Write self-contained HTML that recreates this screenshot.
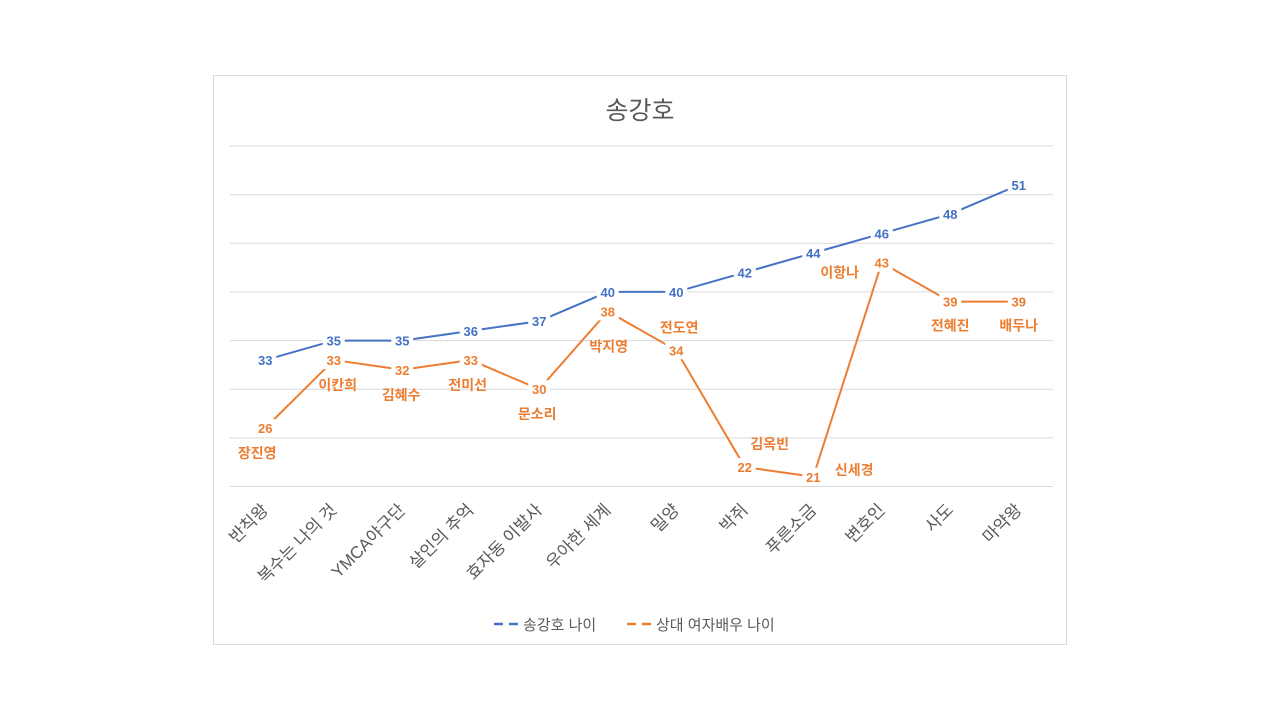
<!DOCTYPE html>
<html><head><meta charset="utf-8">
<style>
body{margin:0;background:#fff;width:1280px;height:720px;overflow:hidden;font-family:"Liberation Sans","Noto Sans CJK KR",sans-serif}
svg text{font-family:"Liberation Sans","Noto Sans CJK KR",sans-serif}
</style></head>
<body>
<svg id="c" width="1280" height="720" xmlns="http://www.w3.org/2000/svg">
<rect x="213.5" y="75.5" width="853" height="569" fill="#fff" stroke="#d9d9d9"/>
<text x="640" y="119" font-size="25" fill="#595959" text-anchor="middle">송강호</text>
<g id="grid"></g><g id="xl"></g><g id="lines"></g><g id="labels"></g>
<g>
<line x1="494" y1="624" x2="519" y2="624" stroke="#4472c4" stroke-width="2.5" stroke-dasharray="9,6"/>
<text x="523" y="630" font-size="15" fill="#595959">송강호 나이</text>
<line x1="627" y1="624" x2="652" y2="624" stroke="#ed7d31" stroke-width="2.5" stroke-dasharray="9,6"/>
<text x="656" y="630" font-size="15" fill="#595959">상대 여자배우 나이</text>
</g>
</svg>
<script>
const categories=["반칙왕","복수는 나의 것","YMCA야구단","살인의 추억","효자동 이발사","우아한 세계","밀양","박쥐","푸른소금","변호인","사도","마약왕"];
const songAges=[33,35,35,36,37,40,40,42,44,46,48,51];
const actressAges=[26,33,32,33,30,38,34,22,21,43,39,39];
const actressNames=["장진영","이칸희","김혜수","전미선","문소리","박지영","전도연","김옥빈","신세경","이항나","전혜진","배두나"];
const yTicks=[20,25,30,35,40,45,50,55];
const nameOff=[[-8,25],[4,25],[-1,25],[-3,25],[-2,25],[1,35],[3,-23],[25,-23],[41,-7],[-42,10],[0,24],[0,24]];
const NS="http://www.w3.org/2000/svg";
const x0=231,x1=1053,yb=486.5,yt=146;
const xs=i=>x0+(i+0.5)*(x1-x0)/categories.length;
const ys=v=>yb-(v-20)*(yb-yt)/35;
function mk(t,a,p){const e=document.createElementNS(NS,t);for(const k in a)e.setAttribute(k,a[k]);p.appendChild(e);return e;}
const G=document.getElementById('grid');
yTicks.forEach(v=>{const l=mk('line',{x1:x0-1,x2:x1,y1:ys(v),y2:ys(v),stroke:'#d9d9d9','stroke-width':1},G);

});
const XL=document.getElementById('xl');
categories.forEach((c,i)=>{const ax=xs(i)+4,ay=511;const t=mk('text',{x:ax,y:ay,'font-size':17,fill:'#595959','text-anchor':'end',transform:`rotate(-45 ${ax} ${ay})`},XL);t.textContent=c;

});
const L=document.getElementById('lines');
function line(d,col,name){const p=mk('polyline',{points:d.map((v,i)=>xs(i)+','+ys(v)).join(' '),fill:'none',stroke:col,'stroke-width':2},L);

}
line(songAges,'#4472c4','series-song-line');
line(actressAges,'#ed7d31','series-actress-line');
const LB=document.getElementById('labels');
function lab(d,col,name){d.forEach((v,i)=>{const x=xs(i),y=ys(v);mk('rect',{x:x-11,y:y-9,width:22,height:18,fill:'#fff'},LB);
const t=mk('text',{x:x,y:y+5,'font-size':13,'font-weight':'bold',fill:col,'text-anchor':'middle'},LB);t.textContent=v;

});}
lab(songAges,'#4472c4','song-age-label');
lab(actressAges,'#ed7d31','actress-age-label');
actressNames.forEach((n,i)=>{const t=mk('text',{x:xs(i)+nameOff[i][0],y:ys(actressAges[i])+nameOff[i][1]+5,'font-size':14,'font-weight':'bold',fill:'#ed7d31','text-anchor':'middle'},LB);t.textContent=n;

});
</script>
</body></html>
